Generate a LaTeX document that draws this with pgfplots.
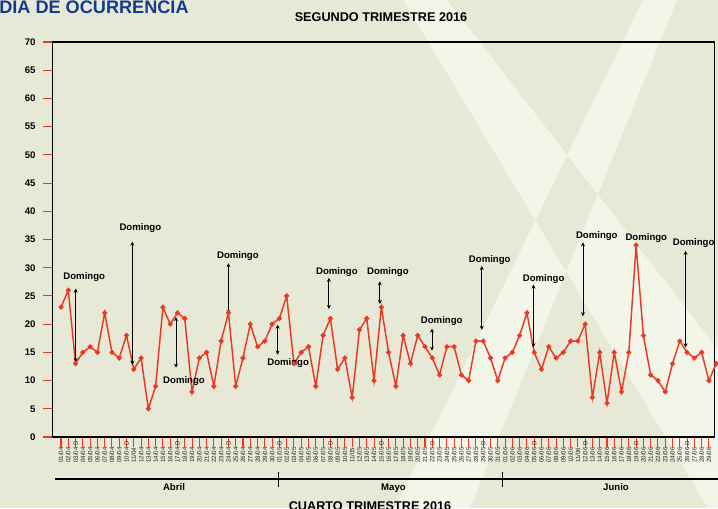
\documentclass[border=0pt]{standalone}
\usepackage{fontspec}
\setmainfont{Liberation Sans}
\usepackage{pgfplots}
\usepackage{pgfplotstable}
\pgfplotsset{compat=1.18}
\usetikzlibrary{arrows.meta}

\definecolor{fondo}{RGB}{231,233,214}
\definecolor{franja}{RGB}{243,245,232}
\definecolor{serie}{RGB}{232,58,36}
\definecolor{titulo}{RGB}{20,60,140}

% casos por dia, 01/04 a 30/06
\pgfplotstableread{
dia casos
1 23
2 26
3 13
4 15
5 16
6 15
7 22
8 15
9 14
10 18
11 12
12 14
13 5
14 9
15 23
16 20
17 22
18 21
19 8
20 14
21 15
22 9
23 17
24 22
25 9
26 14
27 20
28 16
29 17
30 20
31 21
32 25
33 13
34 15
35 16
36 9
37 18
38 21
39 12
40 14
41 7
42 19
43 21
44 10
45 23
46 15
47 9
48 18
49 13
50 18
51 16
52 14
53 11
54 16
55 16
56 11
57 10
58 17
59 17
60 14
61 10
62 14
63 15
64 18
65 22
66 15
67 12
68 16
69 14
70 15
71 17
72 17
73 20
74 7
75 15
76 6
77 15
78 8
79 15
80 34
81 18
82 11
83 10
84 8
85 13
86 17
87 15
88 14
89 15
90 10
91 13
}\casos

\newcommand{\flecha}[3]{\draw[black, line width=0.7pt, {Stealth[length=3pt,width=3pt]}-{Stealth[length=3pt,width=3pt]}] (axis cs:#1,#2) -- (axis cs:#1,#3);}
\newcommand{\domingo}[2]{\node[font=\fontsize{7.2}{8}\selectfont\bfseries, anchor=base, inner sep=0pt] at (axis cs:#1,#2) {Domingo};}

\begin{document}
\begin{tikzpicture}[x=0.75pt, y=0.75pt]
\useasboundingbox (0,0) rectangle (718,508);
\clip (0,0) rectangle (718,508);
\fill[fondo] (0,0) rectangle (718,508);
\fill[franja, even odd rule]
  (403,508) -- (447,508) -- (841,0) -- (708,0) -- cycle
  (643,508) -- (677,508) -- (470,0) -- (395,0) -- cycle;

\node[anchor=base west, inner sep=0pt, text=titulo, font=\fontsize{13.6}{15}\selectfont\bfseries] at (-1,494.7) {DIA DE OCURRENCIA};
\node[anchor=base, inner sep=0pt, font=\fontsize{9.5}{11}\selectfont\bfseries] at (381,486) {SEGUNDO TRIMESTRE 2016};
\node[anchor=base, inner sep=0pt, font=\fontsize{9.5}{11}\selectfont\bfseries] at (370,-2.5) {CUARTO TRIMESTRE 2016};

% meses
\draw[black, line width=0.9pt] (55,29) -- (718,29);
\draw[black, line width=0.9pt] (278.3,20.7) -- (278.3,36.3);
\draw[black, line width=0.9pt] (502.3,20.7) -- (502.3,36.3);
\foreach \mx/\mes in {174/Abril, 393.5/Mayo, 616/Junio}
  \node[anchor=base, inner sep=0pt, font=\fontsize{7.2}{8}\selectfont\bfseries] at (\mx,18) {\mes};

\begin{axis}[
  at={(39.525pt,53.25pt)}, anchor=south west,
  scale only axis, width=496.2pt, height=296.25pt,
  xmin=-0.14, xmax=90.74, ymin=0, ymax=70,
  xtick={1,...,91},
  xticklabels={01/04,02/04,03/04 D,04/04,05/04,06/04,07/04,08/04,09/04,10/04 D,
    11/04,12/04,13/04,14/04,15/04,16/04,17/04 D,18/04,19/04,20/04,
    21/04,22/04,23/04,24/04 D,25/04,26/04,27/04,28/04,29/04,30/04,
    01/05 D,02/05,03/05,04/05,05/05,06/05,07/05,08/05 D,09/05,10/05,
    11/05,12/05,13/05,14/05,15/05 D,16/05,17/05,18/05,19/05,20/05,
    21/05,22/05 D,23/05,24/05,25/05,26/05,27/05,28/05,29/05 D,30/05,31/05,
    01/06,02/06,03/06,04/06,05/06 D,06/06,07/06,08/06,09/06,10/06,
    11/06,12/06 D,13/06,14/06,15/06,16/06,17/06,18/06,19/06 D,20/06,
    21/06,22/06,23/06,24/06,25/06,26/06 D,27/06,28/06,29/06,30/06},
  ytick={0,5,...,70},
  axis line style={black, line width=0.9pt},
  tick align=outside, xtick pos=bottom, ytick pos=left,
  major tick length=7.5pt,
  tick style={serie, line width=0.8pt},
  xticklabel style={font=\fontsize{4.6}{5}\selectfont, rotate=90, anchor=west, inner sep=0pt, text=black!85},
  xticklabel shift=12pt,
  yticklabel style={font=\fontsize{7.2}{8}\selectfont\bfseries, inner sep=0pt},
  yticklabel shift=5.25pt,
  /pgf/number format/assume math mode=true,
  clip=false,
]
\addplot[serie, line width=1.1pt, mark=*, mark size=1.3pt, mark options={fill=serie, draw=serie}]
  table[x=dia, y=casos] {\casos};

\flecha{3.02}{13.3}{26.3}
\flecha{10.8}{12.8}{34.6}
\flecha{16.8}{12.3}{21.25}
\flecha{24.0}{21.8}{30.8}
\flecha{30.76}{14.6}{19.9}
\flecha{37.8}{22.7}{28.2}
\flecha{44.8}{23.6}{27.6}
\flecha{51.96}{15.3}{19.2}
\flecha{58.8}{19.0}{30.3}
\flecha{65.9}{15.9}{27.0}
\flecha{72.7}{21.4}{34.5}
\flecha{86.8}{15.9}{33.0}

\domingo{4.19}{27.9}
\domingo{11.9}{36.6}
\domingo{17.9}{9.5}
\domingo{25.3}{31.7}
\domingo{32.2}{12.6}
\domingo{38.9}{28.8}
\domingo{45.9}{28.8}
\domingo{53.3}{20.2}
\domingo{59.9}{30.9}
\domingo{67.3}{27.5}
\domingo{74.6}{35.2}
\domingo{81.4}{34.8}
\domingo{87.9}{33.9}
\end{axis}
\end{tikzpicture}
\end{document}
